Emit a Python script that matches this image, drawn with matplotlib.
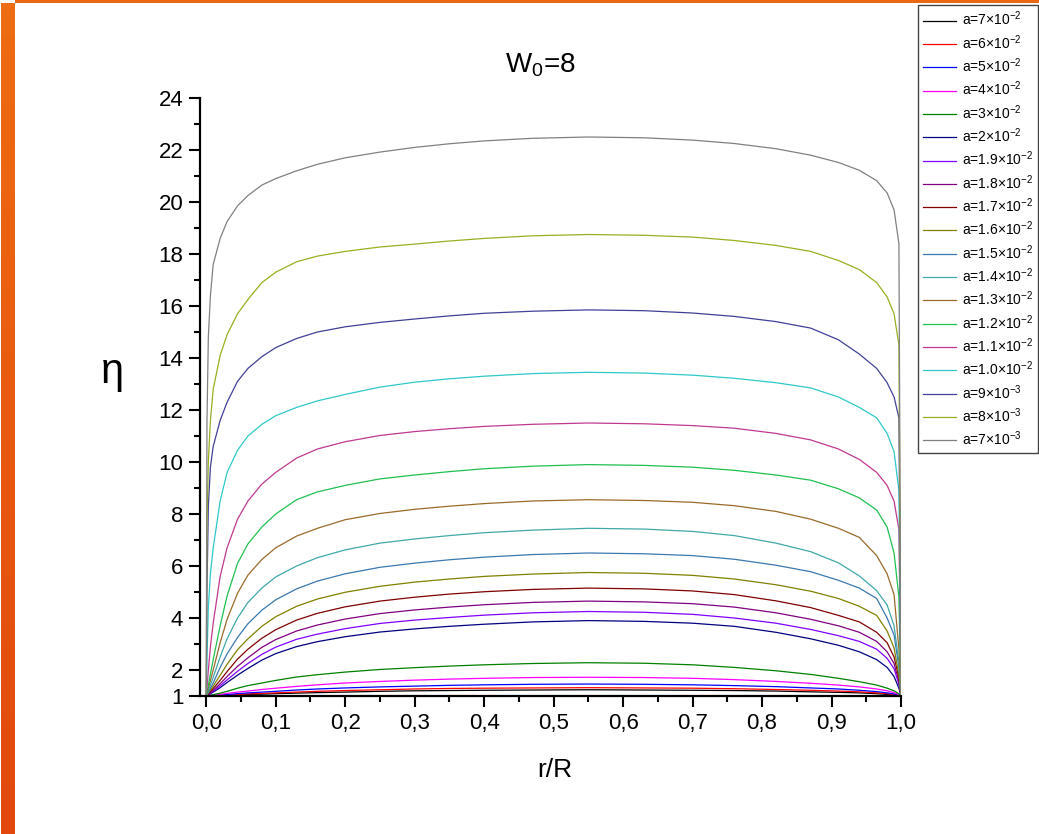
import matplotlib
matplotlib.use("Agg")
import matplotlib.pyplot as plt
from matplotlib.colors import LinearSegmentedColormap
from matplotlib.patches import Rectangle
import numpy as np

plt.rcParams['font.family'] = ['Liberation Sans', 'DejaVu Sans']
plt.rcParams['mathtext.default'] = 'regular'

# r/R sample positions shared by every profile
r = [0, 0.001, 0.003, 0.006, 0.01, 0.02, 0.03, 0.045, 0.06, 0.08,
     0.1, 0.13, 0.16, 0.2, 0.25, 0.3, 0.35, 0.4, 0.47, 0.55,
     0.63, 0.7, 0.76, 0.82, 0.87, 0.91, 0.94, 0.965, 0.98, 0.99,
     0.997, 1.0]

labels = ['a=7×10$^{-2}$', 'a=6×10$^{-2}$', 'a=5×10$^{-2}$', 'a=4×10$^{-2}$',
          'a=3×10$^{-2}$', 'a=2×10$^{-2}$', 'a=1.9×10$^{-2}$', 'a=1.8×10$^{-2}$',
          'a=1.7×10$^{-2}$', 'a=1.6×10$^{-2}$', 'a=1.5×10$^{-2}$', 'a=1.4×10$^{-2}$',
          'a=1.3×10$^{-2}$', 'a=1.2×10$^{-2}$', 'a=1.1×10$^{-2}$', 'a=1.0×10$^{-2}$',
          'a=9×10$^{-3}$', 'a=8×10$^{-3}$', 'a=7×10$^{-3}$']

colors = ['#000000', '#ff0000', '#0000ff', '#ff00ff', '#008000', '#000080',
          '#8000ff', '#800080', '#800000', '#808000', '#3a78b0', '#40a8a8',
          '#9a6a2a', '#20c050', '#c03890', '#30c8c8', '#404098', '#9aae20',
          '#808080']

eta_7e2 = [1, 1.0, 1.0, 1.0, 1.01, 1.02, 1.03, 1.04, 1.06, 1.07, 1.09, 1.11, 1.13, 1.15, 1.18, 1.2, 1.21, 1.22, 1.23, 1.24, 1.23, 1.22, 1.21, 1.19, 1.16, 1.14, 1.12, 1.09, 1.06, 1.04, 1.01, 1]
eta_6e2 = [1, 1.0, 1.0, 1.01, 1.01, 1.03, 1.04, 1.06, 1.08, 1.1, 1.12, 1.15, 1.18, 1.21, 1.24, 1.27, 1.29, 1.3, 1.31, 1.32, 1.31, 1.3, 1.28, 1.25, 1.22, 1.19, 1.16, 1.12, 1.09, 1.06, 1.02, 1]
eta_5e2 = [1, 1.0, 1.0, 1.01, 1.02, 1.04, 1.06, 1.09, 1.12, 1.15, 1.18, 1.23, 1.27, 1.31, 1.35, 1.38, 1.41, 1.43, 1.45, 1.46, 1.45, 1.43, 1.4, 1.36, 1.31, 1.27, 1.22, 1.17, 1.12, 1.08, 1.03, 1]
eta_4e2 = [1, 1.0, 1.01, 1.02, 1.03, 1.06, 1.1, 1.15, 1.19, 1.25, 1.3, 1.37, 1.43, 1.5, 1.56, 1.61, 1.65, 1.68, 1.71, 1.72, 1.71, 1.68, 1.63, 1.56, 1.49, 1.42, 1.35, 1.27, 1.2, 1.13, 1.05, 1]
eta_3e2 = [1, 1.005, 1.015, 1.03, 1.05, 1.11, 1.18, 1.3, 1.4, 1.5, 1.6, 1.73, 1.82, 1.92, 2.02, 2.09, 2.15, 2.2, 2.25, 2.28, 2.26, 2.2, 2.1, 1.97, 1.83, 1.68, 1.55, 1.42, 1.3, 1.2, 1.08, 1]
eta_2e2 = [1, 1.01, 1.04, 1.09, 1.15, 1.32, 1.52, 1.8, 2.06, 2.38, 2.63, 2.9, 3.09, 3.28, 3.46, 3.58, 3.68, 3.76, 3.85, 3.9, 3.87, 3.8, 3.68, 3.45, 3.2, 2.95, 2.7, 2.4, 2.1, 1.75, 1.3, 1]
eta_19e3 = [1, 1.02, 1.05, 1.11, 1.18, 1.39, 1.62, 1.95, 2.25, 2.6, 2.88, 3.18, 3.38, 3.59, 3.79, 3.92, 4.02, 4.11, 4.2, 4.25, 4.22, 4.14, 4.0, 3.8, 3.56, 3.32, 3.1, 2.8, 2.45, 2.05, 1.45, 1]
eta_18e3 = [1, 1.02, 1.06, 1.13, 1.22, 1.47, 1.75, 2.14, 2.47, 2.87, 3.17, 3.5, 3.73, 3.96, 4.17, 4.31, 4.42, 4.51, 4.6, 4.65, 4.62, 4.55, 4.42, 4.2, 3.95, 3.7, 3.45, 3.1, 2.7, 2.25, 1.55, 1]
eta_17e3 = [1, 1.03, 1.09, 1.17, 1.29, 1.6, 1.94, 2.42, 2.8, 3.22, 3.55, 3.92, 4.18, 4.43, 4.65, 4.8, 4.92, 5.01, 5.1, 5.15, 5.12, 5.04, 4.9, 4.66, 4.4, 4.1, 3.85, 3.45, 3.05, 2.5, 1.7, 1]
eta_16e3 = [1, 1.04, 1.12, 1.23, 1.38, 1.8, 2.22, 2.78, 3.2, 3.68, 4.05, 4.45, 4.73, 4.99, 5.22, 5.38, 5.5, 5.6, 5.69, 5.75, 5.72, 5.64, 5.5, 5.28, 5.03, 4.75, 4.45, 4.1, 3.5, 2.85, 1.8, 1]
eta_15e3 = [1, 1.05, 1.15, 1.3, 1.5, 2.1, 2.62, 3.25, 3.78, 4.3, 4.7, 5.12, 5.42, 5.7, 5.95, 6.11, 6.24, 6.34, 6.44, 6.5, 6.47, 6.4, 6.26, 6.03, 5.78, 5.45, 5.15, 4.75, 4.0, 3.35, 2.1, 1]
eta_14e3 = [1, 1.06, 1.2, 1.42, 1.72, 2.5, 3.2, 4.0, 4.6, 5.15, 5.58, 6.0, 6.32, 6.62, 6.88, 7.04, 7.17, 7.28, 7.38, 7.45, 7.42, 7.33, 7.17, 6.88, 6.55, 6.12, 5.62, 5.05, 4.5, 3.7, 2.3, 1]
eta_13e3 = [1, 1.1, 1.3, 1.6, 2.0, 3.05, 3.95, 4.95, 5.65, 6.25, 6.7, 7.15, 7.45, 7.78, 8.02, 8.18, 8.3, 8.4, 8.5, 8.55, 8.52, 8.45, 8.32, 8.1, 7.8, 7.45, 7.1, 6.4, 5.7, 4.9, 2.8, 1]
eta_12e3 = [1, 1.1, 1.4, 1.85, 2.4, 3.7, 4.85, 6.1, 6.85, 7.5, 8.0, 8.55, 8.85, 9.1, 9.35, 9.5, 9.63, 9.74, 9.84, 9.9, 9.87, 9.8, 9.68, 9.5, 9.3, 8.97, 8.62, 8.15, 7.5, 6.5, 4.8, 1]
eta_11e3 = [1, 1.3, 2.0, 2.9, 3.8, 5.6, 6.7, 7.8, 8.5, 9.15, 9.6, 10.15, 10.5, 10.78, 11.02, 11.17, 11.28, 11.37, 11.45, 11.5, 11.47, 11.4, 11.3, 11.1, 10.85, 10.5, 10.1, 9.6, 9.1, 8.5, 7.4, 1]
eta_10e3 = [1, 2.4, 4.4, 5.7, 6.7, 8.5, 9.6, 10.45, 11.0, 11.45, 11.78, 12.1, 12.35, 12.6, 12.88, 13.07, 13.2, 13.3, 13.4, 13.45, 13.42, 13.34, 13.22, 13.05, 12.85, 12.5, 12.1, 11.7, 11.1, 10.4, 8.9, 1]
eta_9e3 = [1, 5.0, 8.3, 9.8, 10.6, 11.6, 12.3, 13.1, 13.6, 14.05, 14.4, 14.75, 15.0, 15.2, 15.37, 15.5, 15.62, 15.72, 15.8, 15.85, 15.82, 15.73, 15.6, 15.4, 15.15, 14.7, 14.15, 13.6, 13.05, 12.5, 11.7, 1]
eta_8e3 = [1, 7.5, 10.0, 11.6, 12.8, 14.1, 14.9, 15.7, 16.25, 16.9, 17.3, 17.7, 17.92, 18.1, 18.27, 18.38, 18.5, 18.6, 18.7, 18.75, 18.72, 18.65, 18.52, 18.33, 18.1, 17.75, 17.4, 16.9, 16.35, 15.7, 14.5, 1]
eta_7e3 = [1, 11.5, 14.8, 16.4, 17.6, 18.6, 19.25, 19.85, 20.25, 20.65, 20.9, 21.2, 21.45, 21.7, 21.92, 22.1, 22.24, 22.35, 22.45, 22.5, 22.47, 22.38, 22.25, 22.05, 21.8, 21.52, 21.22, 20.82, 20.35, 19.7, 18.4, 1]

curves = [eta_7e2, eta_6e2, eta_5e2, eta_4e2, eta_3e2, eta_2e2, eta_19e3, eta_18e3,
          eta_17e3, eta_16e3, eta_15e3, eta_14e3, eta_13e3, eta_12e3, eta_11e3,
          eta_10e3, eta_9e3, eta_8e3, eta_7e3]

xticks = [0.0, 0.1, 0.2, 0.3, 0.4, 0.5, 0.6, 0.7, 0.8, 0.9, 1.0]
xtick_labels = ['0,0', '0,1', '0,2', '0,3', '0,4', '0,5', '0,6', '0,7', '0,8', '0,9', '1,0']
yticks = [1, 2, 4, 6, 8, 10, 12, 14, 16, 18, 20, 22, 24]

W, H = 1039, 834
fig = plt.figure(figsize=(W / 100, H / 100), dpi=100)
ax = fig.add_axes([200 / W, 1 - 696 / H, 701 / W, 598 / H])

for y, c, lab in zip(curves, colors, labels):
    ax.plot(r, y, color=c, lw=0.9, label=lab)

ax.set_xlim(-0.009, 1.0)
ax.set_ylim(1, 24)
ax.set_xticks(xticks)
ax.set_xticklabels(xtick_labels)
ax.set_xticks(np.arange(0.05, 1.0, 0.1), minor=True)
ax.set_yticks(yticks)
ax.set_yticks(np.arange(3, 24, 2), minor=True)
ax.tick_params(which='major', direction='out', length=8, width=1.5, labelsize=16, pad=4)
ax.tick_params(which='minor', direction='out', length=4, width=1.5)
for s in ['top', 'right']:
    ax.spines[s].set_visible(False)
for s in ['left', 'bottom']:
    ax.spines[s].set_linewidth(1.6)

fig.text(540 / W, 1 - 65 / H, 'W$_0$=8', ha='center', va='center', fontsize=20)
fig.text(112 / W, 1 - 372 / H, 'η', ha='center', va='center', fontsize=30)
fig.text(555 / W, 1 - 770 / H, 'r/R', ha='center', va='center', fontsize=19)

leg = ax.legend(loc='upper left', bbox_to_anchor=(918 / W, 1 - 5 / H),
                bbox_transform=fig.transFigure, fontsize=10, frameon=True,
                fancybox=False, edgecolor='#444444', framealpha=1,
                handlelength=2.4, handletextpad=0.4, labelspacing=0.34,
                borderpad=0.35, borderaxespad=0)
leg.get_frame().set_linewidth(1.0)

# orange slide edging: strip along the top, gradient bar on the left
fig.add_artist(Rectangle((15 / W, 1 - 3 / H), 1, 3 / H, transform=fig.transFigure,
                         color='#ea6812', lw=0))
bar = fig.add_axes([1 / W, 0, 14 / W, 1 - 3 / H])
bar.axis('off')
grad = LinearSegmentedColormap.from_list('edge', ['#ee6c12', '#e2480e'])
bar.imshow(np.linspace(0, 1, 100)[:, None], aspect='auto', cmap=grad)

fig.savefig('out.png', dpi=100)
